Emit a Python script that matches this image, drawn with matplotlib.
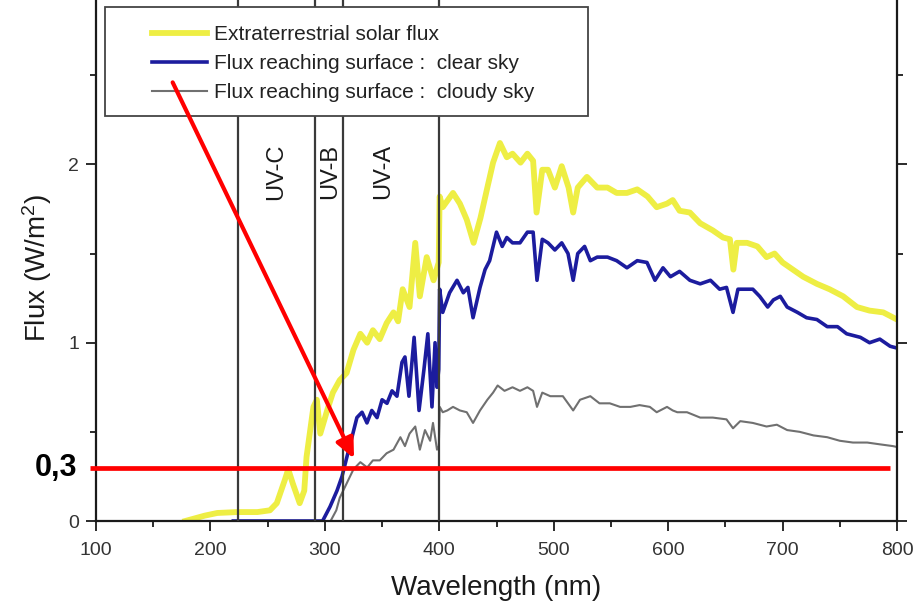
import matplotlib
matplotlib.use("Agg")
import matplotlib.pyplot as plt
from matplotlib.patches import Rectangle
from matplotlib.ticker import MultipleLocator
import matplotlib.transforms as mtransforms

plt.rcParams["font.family"] = ["Liberation Sans", "DejaVu Sans"]
plt.rcParams["mathtext.fontset"] = "custom"
plt.rcParams["mathtext.rm"] = "Liberation Sans"
plt.rcParams["mathtext.it"] = "Liberation Sans:italic"
plt.rcParams["mathtext.bf"] = "Liberation Sans:bold"

# ---- spectra (wavelength in nm, flux in W/m^2) ----
extra_wl = [178, 195, 206, 223, 241, 252, 258, 265, 268, 272, 278, 282, 284, 290,
            293, 296, 302, 307, 313, 319, 325, 331, 337, 342, 348, 354, 360, 364,
            368, 374, 379, 383, 389, 395, 399.5, 400.3, 403, 412, 418, 424, 430,
            436, 442, 447, 453, 459, 464, 471, 477, 482, 485, 490, 495, 501, 507,
            513, 517, 521, 529, 538, 547, 555, 564, 573, 582, 590, 599, 604, 610,
            619, 628, 639, 648, 654, 657, 660, 669, 678, 686, 693, 700, 709, 718,
            730, 741, 753, 765, 776, 788, 797, 800]
extra_flux = [0.0, 0.03, 0.045, 0.05, 0.05, 0.06, 0.10, 0.23, 0.29, 0.21, 0.10, 0.17,
              0.36, 0.64, 0.68, 0.49, 0.62, 0.72, 0.79, 0.83, 0.96, 1.05, 1.00, 1.07,
              1.02, 1.11, 1.17, 1.12, 1.30, 1.20, 1.56, 1.26, 1.48, 1.35, 1.45, 1.82,
              1.76, 1.84, 1.78, 1.69, 1.56, 1.70, 1.87, 2.01, 2.12, 2.04, 2.06, 2.01,
              2.06, 2.02, 1.73, 1.97, 1.97, 1.87, 1.99, 1.87, 1.73, 1.87, 1.93, 1.87,
              1.87, 1.84, 1.84, 1.86, 1.82, 1.76, 1.78, 1.80, 1.74, 1.73, 1.67, 1.63,
              1.59, 1.58, 1.41, 1.56, 1.56, 1.54, 1.48, 1.50, 1.45, 1.41, 1.37, 1.33,
              1.30, 1.26, 1.20, 1.18, 1.17, 1.14, 1.13]

clear_wl = [220, 298, 304.5, 310.6, 315, 319.3, 323.7, 328, 332.5, 336.8, 341, 345.6,
            350, 354.3, 358.7, 363, 367.4, 370, 373.5, 378, 382.3, 386.6, 390, 393.6,
            396.3, 398, 399.5, 400.3, 403, 409, 415.5, 421, 425, 429.5, 435.6, 440,
            444, 450, 455, 459, 464, 470.5, 477, 482, 485.4, 490, 495, 501, 507,
            512.5, 517, 521, 527, 532, 538, 547, 555, 564, 573, 581.5, 588.5, 595.5,
            602, 610, 619, 628, 637, 645, 651, 656.7, 661, 669, 674, 680, 687, 692,
            698, 704, 713, 721, 730, 739, 748, 756, 768, 776, 785, 794, 800]
clear_flux = [0.0, 0.0, 0.08, 0.17, 0.25, 0.36, 0.47, 0.58, 0.61, 0.55, 0.62, 0.58,
              0.68, 0.66, 0.73, 0.70, 0.89, 0.92, 0.70, 1.03, 0.62, 0.85, 1.05, 0.64,
              1.00, 0.75, 0.85, 1.30, 1.17, 1.28, 1.35, 1.28, 1.31, 1.14, 1.31, 1.41,
              1.46, 1.62, 1.54, 1.59, 1.56, 1.56, 1.62, 1.62, 1.35, 1.58, 1.56, 1.52,
              1.56, 1.50, 1.35, 1.50, 1.54, 1.46, 1.48, 1.48, 1.46, 1.42, 1.46, 1.45,
              1.35, 1.42, 1.37, 1.40, 1.35, 1.33, 1.35, 1.30, 1.31, 1.17, 1.30, 1.30,
              1.30, 1.26, 1.20, 1.24, 1.26, 1.20, 1.17, 1.14, 1.13, 1.09, 1.09, 1.05,
              1.03, 1.00, 1.02, 0.98, 0.97]

cloudy_wl = [305, 310, 313, 319, 325, 331, 337, 342, 348, 354, 360, 366, 370, 374,
             379, 383, 387.5, 392, 394.5, 398, 399.6, 400.4, 403, 407, 412, 418, 424,
             429.5, 435.6, 442, 447, 451, 457, 464, 470.5, 477, 482, 485.4, 490, 497,
             503, 508, 517, 523, 532, 540, 549, 558, 567, 575, 584, 590, 599, 604,
             608, 616.5, 628, 639, 651, 656.7, 663, 674, 686, 695, 704, 715, 727,
             739, 750, 761.5, 774, 785, 796.5, 800]
cloudy_flux = [0.0, 0.06, 0.13, 0.21, 0.29, 0.33, 0.30, 0.34, 0.34, 0.38, 0.40, 0.47,
               0.42, 0.49, 0.53, 0.40, 0.51, 0.45, 0.55, 0.40, 0.42, 0.64, 0.61, 0.62,
               0.64, 0.62, 0.61, 0.55, 0.62, 0.68, 0.72, 0.76, 0.73, 0.75, 0.73, 0.75,
               0.73, 0.64, 0.72, 0.70, 0.70, 0.70, 0.62, 0.68, 0.70, 0.66, 0.66, 0.64,
               0.64, 0.65, 0.64, 0.61, 0.64, 0.62, 0.61, 0.61, 0.58, 0.58, 0.57, 0.52,
               0.56, 0.55, 0.53, 0.54, 0.51, 0.50, 0.48, 0.47, 0.45, 0.44, 0.44, 0.43,
               0.42, 0.415]

series_labels = ["Extraterrestrial solar flux",
                 "Flux reaching surface :  clear sky",
                 "Flux reaching surface :  cloudy sky"]

# UV band boundaries and names
band_edges = [224, 291, 316, 400]
band_names = ["UV-C", "UV-B", "UV-A"]
band_label_x = [257, 304.5, 351]
band_label_y = 1.96

# annotation: threshold line and pointer
threshold = 0.3
threshold_text = "0,3"
threshold_span = (95, 794)
pointer_start = (167, 2.46)
pointer_end = (325.5, 0.35)

# ---- figure ----
W, H = 914, 606
Y_TOP = 2.98
fig = plt.figure(figsize=(W / 100, H / 100), dpi=100)
ax_left, ax_right = 96, 897
ax_bottom_px = 521
ax_height_px = Y_TOP * 178.3
ax = fig.add_axes([ax_left / W, (H - ax_bottom_px) / H,
                   (ax_right - ax_left) / W, ax_height_px / H])
ax.set_xlim(100, 800)
ax.set_ylim(0, Y_TOP)

ax.plot(extra_wl, extra_flux, color="#eeee44", lw=4.2, solid_joinstyle="round",
        label=series_labels[0], zorder=2)
ax.plot(clear_wl, clear_flux, color="#1c1c9e", lw=2.6, solid_joinstyle="round",
        label=series_labels[1], zorder=2.1)
ax.plot(cloudy_wl, cloudy_flux, color="#707070", lw=1.5, solid_joinstyle="round",
        label=series_labels[2], zorder=2.2)

for xe in band_edges:
    ax.axvline(xe, color="#3a3a3a", lw=1.6, zorder=3)
for name, xl in zip(band_names, band_label_x):
    ax.text(xl, band_label_y, name, rotation=90, ha="center", va="center",
            fontsize=17, color="#1a1a1a", zorder=3)

# axes styling
for side in ("left", "right", "bottom"):
    ax.spines[side].set_linewidth(1.6)
    ax.spines[side].set_color("#1a1a1a")
ax.spines["top"].set_visible(False)
ax.xaxis.set_major_locator(MultipleLocator(100))
ax.xaxis.set_minor_locator(MultipleLocator(50))
ax.yaxis.set_major_locator(MultipleLocator(1))
ax.yaxis.set_minor_locator(MultipleLocator(0.5))
ax.tick_params(which="both", direction="out", color="#1a1a1a", width=1.3,
               right=True, labelright=False, top=False)
ax.tick_params(which="major", length=7, labelsize=14, labelcolor="#333333", pad=5)
ax.tick_params(axis="x", which="major", pad=8)
ax.tick_params(which="minor", length=4)

ax.set_xlabel("Wavelength (nm)", fontsize=20, color="#1a1a1a")
ax.xaxis.set_label_coords(0.5, (521 - 575) / ax_height_px)
ax.set_ylabel(r"Flux (W/m$^2$)", fontsize=20, color="#1a1a1a")
ax.yaxis.set_label_coords(-0.052, (521 - 268) / ax_height_px)

# legend on a white box
px_to_ay = lambda py: (ax_bottom_px - py) / ax_height_px
ax.add_patch(Rectangle((0.0112, px_to_ay(116)), 0.603, px_to_ay(7) - px_to_ay(116),
                       transform=ax.transAxes, facecolor="white",
                       edgecolor="#444444", lw=1.3, zorder=4.5, clip_on=False))
leg = ax.legend(loc="upper left", bbox_to_anchor=(0.0699, px_to_ay(25)), frameon=False,
                fontsize=15, handlelength=2.64, handletextpad=0.35, labelspacing=0.48,
                borderpad=0, borderaxespad=0)
leg.set_zorder(5)
for t in leg.get_texts():
    t.set_color("#222222")

# threshold line, value label and pointer
ax.plot(threshold_span, [threshold, threshold], color="#ff0000", lw=3.4,
        zorder=6, clip_on=False, solid_capstyle="butt")
blend = mtransforms.blended_transform_factory(ax.transAxes, ax.transData)
ax.text(-0.0237, threshold, threshold_text, transform=blend, ha="right",
        va="center", fontsize=22, fontweight="bold", color="black", zorder=6)
ax.annotate("", xy=pointer_end, xytext=pointer_start,
            arrowprops=dict(arrowstyle="-|>,head_length=0.55,head_width=0.25",
                            color="#ff0000", lw=3, mutation_scale=22,
                            shrinkA=0, shrinkB=0),
            zorder=7, annotation_clip=False)

fig.savefig("out.png", dpi=100, facecolor="white")
